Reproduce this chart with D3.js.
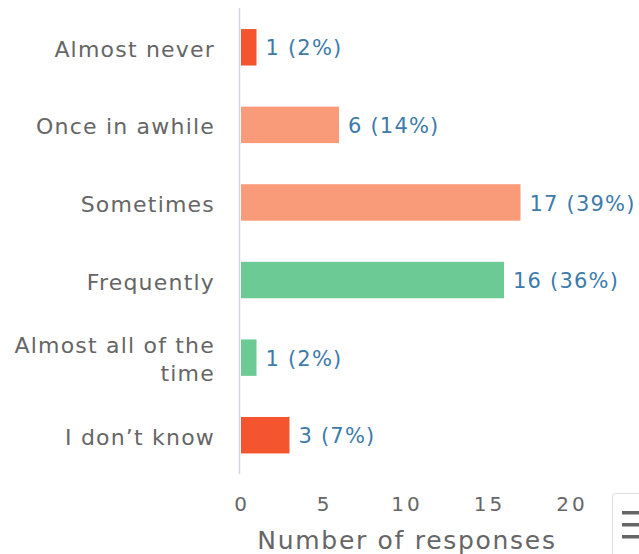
<!DOCTYPE html>
<html><head><meta charset="utf-8">
<script src="https://cdn.jsdelivr.net/npm/d3@7"></script>
<style>body{margin:0;background:#fff;} svg{display:block;}</style>
</head><body>
<script>
const categories = ["Almost never", "Once in awhile", "Sometimes", "Frequently", "Almost all of the time", "I don't know"];
const categoryLines = [["Almost never"], ["Once in awhile"], ["Sometimes"], ["Frequently"], ["Almost all of the", "time"], ["I don\u2019t know"]];
const counts = [1, 6, 17, 16, 1, 3];
const percents = [2, 14, 39, 36, 2, 7];
const barColors = ["#f4542e", "#f99a79", "#f99a79", "#6ccb94", "#6ccb94", "#f4542e"];
const xTicks = [0, 5, 10, 15, 20];
const xTitle = "Number of responses";

const W = 639, H = 554;
const svg = d3.select("body").append("svg").attr("width", W).attr("height", H);
const font = "'DejaVu Sans', sans-serif";

const x = d3.scaleLinear().domain([0, 20]).range([240, 570]);
const y = d3.scaleBand().domain(categories).range([8.5, 474]).paddingInner(0.53).paddingOuter(0.265);

// axis line
svg.append("line").attr("x1", 239.5).attr("x2", 239.5).attr("y1", 8).attr("y2", 474)
  .attr("stroke", "#d3d6e0").attr("stroke-width", 1.5);

// bars
svg.selectAll("rect.bar").data(categories).join("rect").attr("class", "bar")
  .attr("x", x(0) + 1).attr("y", d => y(d))
  .attr("width", (d, i) => x(counts[i]) - x(0) - 1).attr("height", y.bandwidth())
  .attr("fill", (d, i) => barColors[i]);

// value labels
svg.selectAll("text.val").data(categories).join("text").attr("class", "val")
  .attr("x", (d, i) => x(counts[i]) + 9).attr("y", d => y(d) + y.bandwidth() / 2)
  .attr("dy", "0.39em").attr("font-family", font).attr("font-size", 21)
  .attr("letter-spacing", 1.2).attr("fill", "#3d7bab")
  .text((d, i) => `${counts[i]} (${percents[i]}%)`);

// category labels
const cl = svg.selectAll("text.cat").data(categories).join("text").attr("class", "cat")
  .attr("text-anchor", "end").attr("font-family", font).attr("font-size", 22)
  .attr("letter-spacing", 1.2).attr("fill", "#666");
cl.each(function(d, i) {
  const lines = categoryLines[i];
  const cy = y(d) + y.bandwidth() / 2;
  const lh = 28.5;
  const t = d3.select(this);
  lines.forEach((ln, j) => {
    t.append("tspan").attr("x", 215)
      .attr("y", cy + (j - (lines.length - 1) / 2) * lh).attr("dy", "0.43em").text(ln);
  });
});

// x tick labels
const xAxis = d3.axisBottom(x).tickValues(xTicks).tickSize(0).tickPadding(0);
const ax = svg.append("g").attr("transform", "translate(0,511)").call(xAxis);
ax.select(".domain").remove();
ax.selectAll("text").attr("font-family", font).attr("font-size", 20).attr("fill", "#666")
  .attr("letter-spacing", 3).attr("dx", 1.5).attr("dy", 0).attr("y", 0);

svg.append("text").attr("x", 407).attr("y", 549).attr("text-anchor", "middle")
  .attr("font-family", font).attr("font-size", 25).attr("letter-spacing", 1.7)
  .attr("fill", "#666").text(xTitle);

// menu button
svg.append("rect").attr("x", 612.5).attr("y", 493.5).attr("width", 40).attr("height", 70).attr("rx", 3)
  .attr("fill", "#fff").attr("stroke", "#ddd");
[511, 523, 535].forEach(yy => {
  svg.append("rect").attr("x", 622).attr("y", yy).attr("width", 20).attr("height", 3.5).attr("fill", "#666");
});
</script>
</body></html>
